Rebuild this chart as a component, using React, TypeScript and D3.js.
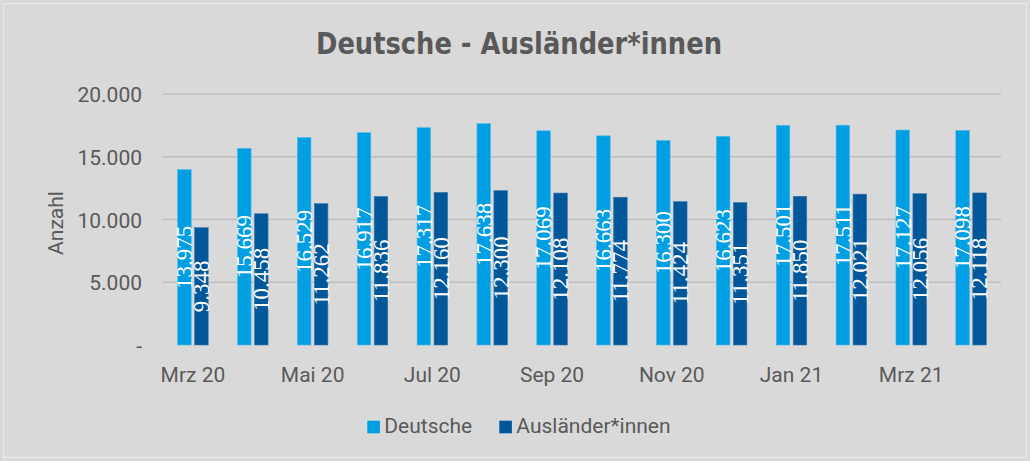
import React from "react";
import * as d3 from "d3";

const months = ["Mrz 20","Apr 20","Mai 20","Jun 20","Jul 20","Aug 20","Sep 20","Okt 20","Nov 20","Dez 20","Jan 21","Feb 21","Mrz 21","Apr 21"];
const deutsche = [13975,15669,16529,16917,17317,17638,17069,16663,16300,16623,17501,17511,17127,17098];
const auslaender = [9348,10458,11262,11836,12160,12300,12108,11774,11424,11351,11850,12021,12056,12118];
const seriesNames = ["Deutsche","Ausländer*innen"];
const seriesColors = ["#009fe3","#00589b"];
const yTicks = [0,5000,10000,15000,20000];

const W = 1030, H = 461;
const fmt = d3.formatLocale({ decimal: ",", thousands: ".", grouping: [3], currency: ["", "€"] }).format(",d");

export default function App() {
  const x = d3.scaleBand<string>().domain(months).range([163, 1001]).paddingInner(0.49).paddingOuter(0.245);
  const xs = d3.scaleBand<string>().domain(seriesNames).range([0, x.bandwidth()]).paddingInner(0.2);
  const y = d3.scaleLinear().domain([0, 20000]).range([345, 94]);
  const data = [deutsche, auslaender];
  const textColor = "#595959";
  const sans = "Roboto, 'Noto Sans', sans-serif";
  return (
    <svg width={W} height={H} style={{ position: "absolute", left: 0, top: 0 }}>
      <rect x={0} y={0} width={W} height={H} fill="#d9d9d9" />
      <rect x={3.5} y={3.5} width={W - 7} height={H - 7} fill="none" stroke="#ebebeb" strokeWidth={1} />
      <text x={316} y={54.3} fontFamily="'Liberation Sans Narrow', 'DejaVu Sans Condensed', sans-serif" fontWeight="bold" fontSize={31} fill={textColor} textLength={406} lengthAdjust="spacingAndGlyphs">Deutsche - Ausländer*innen</text>
      {yTicks.map((t) => (
        <g key={t}>
          {t > 0 && <line x1={163} x2={1001} y1={y(t)} y2={y(t)} stroke="#bfbfbf" strokeWidth={1.5} />}
          <text x={142} y={y(t) + 8.2} textAnchor="end" fontFamily={sans} fontSize={21} fill={textColor}>{t === 0 ? "-" : fmt(t)}</text>
        </g>
      ))}
      <text transform={`translate(63.3,223) rotate(-90)`} textAnchor="middle" fontFamily={sans} fontSize={21} fill={textColor}>Anzahl</text>
      {data.map((vals, si) => (
        <g key={si}>
          {vals.map((v, i) => {
            const bx = (x(months[i]) ?? 0) + (xs(seriesNames[si]) ?? 0);
            const bw = xs.bandwidth();
            return (
              <rect key={i} x={bx} y={y(v)} width={bw} height={y(0) - y(v)} fill={seriesColors[si]} stroke={si === 0 ? "#4fb9ea" : "#3a7ab0"} strokeWidth={0.6} />
            );
          })}
        </g>
      ))}
      {data.map((vals, si) => (
        <g key={"l" + si}>
          {vals.map((v, i) => {
            const cx = (x(months[i]) ?? 0) + (xs(seriesNames[si]) ?? 0) + xs.bandwidth() / 2;
            const cy = (y(v) + y(0)) / 2;
            return (
              <text key={i} transform={`translate(${cx},${cy}) rotate(-90)`} y={7.8} textAnchor="middle" fontFamily="'Liberation Serif', 'DejaVu Serif', serif" fontSize={23} fill="#ffffff">{fmt(v)}</text>
            );
          })}
        </g>
      ))}
      {months.map((m, i) => i % 2 === 0 ? (
        <text key={m} x={(x(m) ?? 0) + x.bandwidth() / 2} y={382} textAnchor="middle" fontFamily={sans} fontSize={21} fill={textColor}>{m}</text>
      ) : null)}
      {seriesNames.map((s, i) => {
        const lx = i === 0 ? 367.3 : 499.3;
        return (
          <g key={s}>
            <rect x={lx} y={420.7} width={12.6} height={12.6} fill={seriesColors[i]} />
            <text x={lx + 17} y={433.3} fontFamily={sans} fontSize={21} fill={textColor}>{s}</text>
          </g>
        );
      })}
    </svg>
  );
}
